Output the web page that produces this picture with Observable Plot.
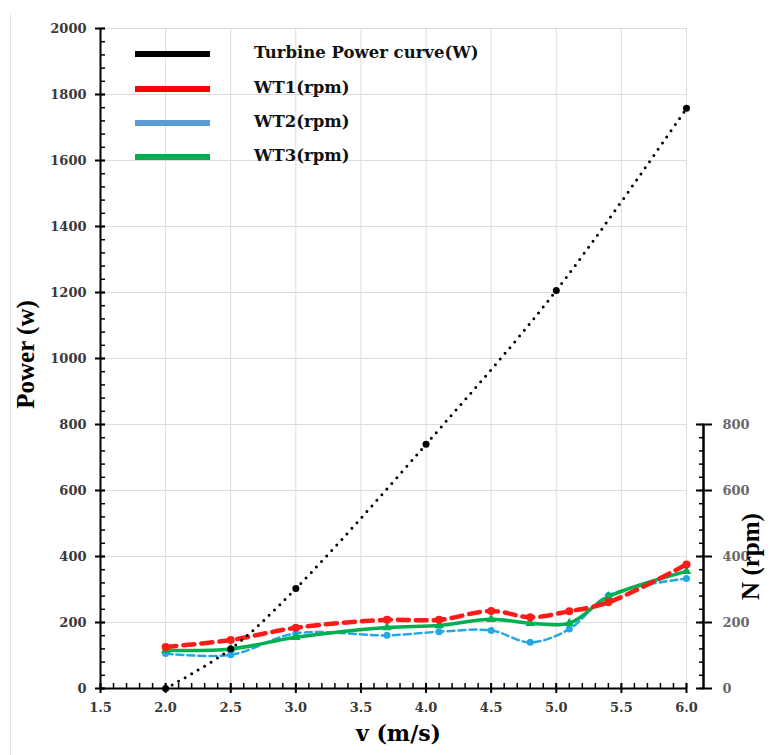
<!DOCTYPE html>
<html>
<head>
<meta charset="utf-8">
<script src="https://cdn.jsdelivr.net/npm/d3@7"></script>
<script src="https://cdn.jsdelivr.net/npm/@observablehq/plot@0.6"></script>
<style>
  html, body { margin: 0; padding: 0; background: #fff; }
  #wrap { position: relative; width: 771px; height: 755px; overflow: hidden; }
  #frameline { position: absolute; left: 10px; top: 14px; width: 1px; height: 741px; background: #e2e2e2; }
  #legend { position: absolute; left: 135px; top: 40px; font-family: "DejaVu Serif", serif; font-weight: bold; font-size: 16.5px; color: #111; }
  .item { position: absolute; left: 0; height: 28px; width: 400px; }
  .swatch { position: absolute; left: 0; top: 11px; width: 75px; height: 6px; }
  .lab { position: absolute; left: 119px; top: 3px; white-space: nowrap; }
</style>
</head>
<body>
<div id="wrap"><div id="frameline"></div><div id="chart"></div><div id="legend"></div></div>
<script>
// ---- data ----
const powerSpeeds = [2.0, 2.5, 3.0, 4.0, 5.0, 6.0];
const turbinePower = [0, 120, 303, 740, 1206, 1758];

const rpmSpeeds = [2.0, 2.5, 3.0, 3.7, 4.1, 4.5, 4.8, 5.1, 5.4, 6.0];
const wt1 = [126, 147, 184, 208, 208, 235, 216, 234, 261, 376];
const wt2 = [106, 102, 167, 161, 172, 176, 140, 180, 282, 333];
const wt3 = [116, 120, 155, 185, 191, 210, 198, 198, 278, 355];

const seriesNames = ["Turbine Power curve(W)", "WT1(rpm)", "WT2(rpm)", "WT3(rpm)"];
const legendColors = ["#000000", "#ff0000", "#5b9bd5", "#00b050"];

const xTickLabels = [1.5, 2.0, 2.5, 3.0, 3.5, 4.0, 4.5, 5.0, 5.5, 6.0];
const powerTicks = [0, 200, 400, 600, 800, 1000, 1200, 1400, 1600, 1800, 2000];
const rpmTicks = [0, 200, 400, 600, 800];

// ---- derived tables ----
const turbine = powerSpeeds.map((v, i) => ({v, p: turbinePower[i]}));
const mk = arr => rpmSpeeds.map((v, i) => ({v, n: arr[i]}));
const d1 = mk(wt1), d2 = mk(wt2), d3s = mk(wt3);

const xMin = xTickLabels[0], xMax = xTickLabels[xTickLabels.length - 1];
const xMinor = d3.range(0, 46).map(i => +(xMin + i * 0.1).toFixed(2));
const yMinor = d3.range(0, 51).map(i => i * 40);
const rpmMinor = d3.range(0, 21).map(i => i * 40);
const rpmMax = rpmTicks[rpmTicks.length - 1];

const tickFont = {fontFamily: "DejaVu Serif", fontWeight: "bold", fontSize: 13};
const blank = () => "";
const plain = d => String(d);

const chart = Plot.plot({
  width: 771,
  height: 755,
  marginLeft: 100,
  marginRight: 85,
  marginTop: 28,
  marginBottom: 67,
  x: {domain: [xMin, xMax], label: null},
  y: {domain: [0, 2000], label: null},
  style: {background: "white", overflow: "visible", fontFamily: "DejaVu Serif"},
  marks: [
    Plot.gridX(xTickLabels.slice(1), {stroke: "#dcdcdc", strokeOpacity: 1, strokeWidth: 1}),
    Plot.gridY(powerTicks.slice(1), {stroke: "#dcdcdc", strokeOpacity: 1, strokeWidth: 1}),

    // bottom axis
    Plot.ruleY([0], {x1: xMin, x2: xMax, stroke: "#000", strokeWidth: 2}),
    Plot.axisX({ticks: xMinor, tickSize: 5, dy: -5, tickFormat: blank, label: null, strokeWidth: 1.5}),
    Plot.axisX({ticks: xTickLabels, tickSize: 10, dy: -5, tickPadding: 9, label: null, strokeWidth: 2,
      tickFormat: d3.format(".1f"), fill: "#3a3a3a", ...tickFont}),

    // left axis
    Plot.ruleX([xMin], {y1: 0, y2: 2000, stroke: "#000", strokeWidth: 2}),
    Plot.axisY({ticks: yMinor, tickSize: 5, dx: 5, tickFormat: blank, label: null, strokeWidth: 1.5}),
    Plot.axisY({ticks: powerTicks, tickSize: 10, dx: 5, tickPadding: 9, label: null, strokeWidth: 2,
      tickFormat: plain, fill: "#3a3a3a", ...tickFont}),

    // right (rpm) axis
    Plot.ruleX([xMax], {y1: 0, y2: rpmMax, dx: 17, stroke: "#000", strokeWidth: 2.5}),
    Plot.axisY({anchor: "right", ticks: rpmMinor, tickSize: 5, dx: 12, tickFormat: blank, label: null, strokeWidth: 1.5}),
    Plot.axisY({anchor: "right", ticks: rpmTicks, tickSize: 16, dx: 9, tickPadding: 11, label: null, strokeWidth: 2,
      tickFormat: plain, fill: "#6a6a6a", ...tickFont}),

    // axis titles
    Plot.text(["Power (w)"], {frameAnchor: "left", textAnchor: "middle", dx: -75, dy: -4, rotate: -90, fontSize: 25,
      fontWeight: "bold", fontFamily: "Liberation Serif", fill: "#000"}),
    Plot.text(["v (m/s)"], {frameAnchor: "bottom", textAnchor: "middle", dy: 52, dx: 5, fontSize: 22, fontWeight: "bold",
      fontFamily: "DejaVu Serif", fill: "#000"}),
    Plot.text(["N (rpm)"], {x: xMax, y: rpmMax / 2, textAnchor: "middle", dx: 64, rotate: -90, fontSize: 25,
      fontWeight: "bold", fontFamily: "Liberation Serif", fill: "#000"}),

    // WT2 (blue dashed)
    Plot.line(d2, {x: "v", y: "n", curve: "catmull-rom", stroke: "#22a8e8", strokeWidth: 2.5, strokeDasharray: "7 4"}),
    Plot.dot(d2, {x: "v", y: "n", r: 3.5, fill: "#22a8e8"}),
    // WT3 (green solid)
    Plot.line(d3s, {x: "v", y: "n", curve: "catmull-rom", stroke: "#00b050", strokeWidth: 3.5}),
    Plot.dot(d3s, {x: "v", y: "n", r: 3.5, symbol: "triangle", fill: "#00b050"}),
    // WT1 (red dashed)
    Plot.line(d1, {x: "v", y: "n", curve: "catmull-rom", stroke: "#ff1a1a", strokeWidth: 4.5, strokeDasharray: "11 7"}),
    Plot.dot(d1, {x: "v", y: "n", r: 4, fill: "#ff1a1a"}),

    // turbine power curve (black dotted)
    Plot.line(turbine, {x: "v", y: "p", curve: "catmull-rom", stroke: "#000", strokeWidth: 3,
      strokeDasharray: "0 7.5", strokeLinecap: "round"}),
    Plot.dot(turbine, {x: "v", y: "p", r: 3.5, fill: "#000"})
  ]
});
document.getElementById("chart").appendChild(chart);

// legend
const legend = document.getElementById("legend");
const tops = [0, 35, 69, 103];
seriesNames.forEach((name, i) => {
  const it = document.createElement("div");
  it.className = "item";
  it.style.top = tops[i] + "px";
  const sw = document.createElement("div");
  sw.className = "swatch";
  sw.style.background = legendColors[i];
  const lb = document.createElement("span");
  lb.className = "lab";
  lb.textContent = name;
  it.appendChild(sw); it.appendChild(lb);
  legend.appendChild(it);
});
</script>
</body>
</html>
